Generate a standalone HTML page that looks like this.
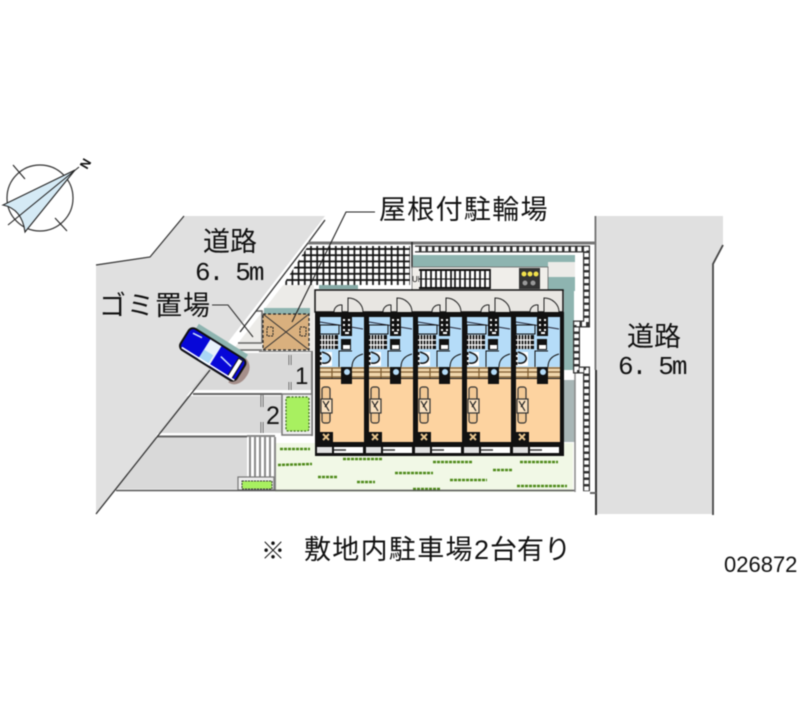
<!DOCTYPE html>
<html><head><meta charset="utf-8"><style>
html,body{margin:0;padding:0;background:#fff}
svg{display:block;filter:blur(.4px)}
.t{font-family:"Liberation Sans","Noto Sans CJK JP",sans-serif;fill:#111}
.m{font-family:"Liberation Mono",monospace;fill:#111;font-size:26px;letter-spacing:-2px}
</style></head><body>
<svg width="800" height="727" viewBox="0 0 800 727" xmlns="http://www.w3.org/2000/svg">
<defs>
<pattern id="gr" width="6.2" height="6.2" patternUnits="userSpaceOnUse"><rect width="6.2" height="6.2" fill="#fff"/><path d="M0 1H6.2M1 0V6.2" stroke="#111" stroke-width="1.7"/></pattern>
<g id="u">
<rect x="320" y="317" width="44" height="50" fill="#b5dcf8"/>
<path d="M320 322L363 329" stroke="#223" stroke-width="1" fill="none"/>
<rect x="320" y="325" width="19" height="9" fill="#b5dcf8" stroke="#111"/>
<rect x="320" y="335" width="18" height="14" fill="#111"/>
<path d="M322 335V349M325 335V349M328 335V349M331 335V349M334 335V349M320 340H338M320 345H338" stroke="#fff" stroke-width="1.2"/>
<rect x="341" y="316" width="11" height="20" fill="#111"/>
<path d="M343 320h2M348 320h2M343 325h2M348 325h2M343 330h2M348 330h2M345 333h4" stroke="#fff" stroke-width="2"/>
<rect x="341" y="339" width="10" height="11" fill="#111"/>
<rect x="343" y="345" width="7" height="4" fill="#fff"/>
<rect x="320" y="352" width="12" height="14" fill="#fff"/>
<path d="M322 352q10 3 8 8q-2 4-8 3" fill="#b5dcf8" stroke="#111" stroke-width="1.5"/>
<path d="M320 352v14" stroke="#111" stroke-width="3" stroke-dasharray="3 2"/>
<path d="M342 351H339V368M342 351H352" stroke="#111" stroke-width="1" fill="none"/>
<path d="M352 367q0-10 11-13" stroke="#111" stroke-width="1" fill="none"/>
<rect x="320" y="367" width="44" height="11" fill="#f1d7ac"/>
<path d="M320 368H364M320 372H364M320 377H364M332 368V378" stroke="#7c5a2e" stroke-width="1.2"/>
<rect x="320" y="379" width="44" height="63" fill="#fdd3a0"/>
<rect x="341" y="367" width="11" height="17" fill="#111"/>
<circle cx="347" cy="372" r="3" fill="#b5dcf8"/>
<rect x="322" y="387" width="8" height="36" rx="2.5" fill="#f3c995" stroke="#333" stroke-width="1.2"/>
<rect x="321" y="399" width="11" height="14" fill="#fbe2c0" stroke="#333" stroke-width="1.2"/>
<path d="M323 401l6 10M329 401l-4 6" stroke="#222" stroke-width="1.2" fill="none"/>
<rect x="320" y="432" width="13" height="10" fill="#111"/>
<path d="M323 434l3 3 3-3M323 440l3-3 3 3" stroke="#e8c58e" stroke-width="2" fill="none"/>
<rect x="317" y="447" width="15" height="6" fill="#e2e2e2"/>
<rect x="334" y="447" width="12" height="6" fill="#fff"/>
<path d="M334 450H346" stroke="#333" stroke-width="1.5"/>
<rect x="346" y="447" width="17" height="6" fill="#fff"/>
<path d="M342 312v-7a7 7 0 0 0-8 7" fill="#e8e6e2" stroke="#222" stroke-width="1"/>
<path d="M348 312V298a15 14 0 0 1 15 14" fill="#e8e6e2" stroke="#222" stroke-width="1"/>
</g>
</defs>

<!-- compass -->
<circle cx="40" cy="198" r="33" fill="#fff" stroke="#333" stroke-width="1.2"/>
<path d="M75 170L3 205Q22 209 25 232Z" fill="#d5eaf5" stroke="#222" stroke-width="1.1"/>
<path d="M79 167L8 225M13 165L25 179M55 218L67 231" stroke="#222" stroke-width="1.1" fill="none"/>
<text x="0" y="0" font-size="13" font-weight="700" fill="#111" transform="translate(87,170) rotate(-60)" style="font-family:'Liberation Sans',sans-serif">N</text>

<!-- left road -->
<path d="M96 265L150 257L184 216L325 216L96 514Z" fill="#e0e0e0"/>
<path d="M96 265L150 257L184 216" fill="none" stroke="#333" stroke-width="1.2"/>

<!-- parking -->
<path d="M220 353H311V390H191Z" fill="#d9d9d9"/>
<path d="M187 396H282V433H158Z" fill="#d9d9d9"/>
<path d="M155 437H247V489H115Z" fill="#d9d9d9"/>
<path d="M259 351H312V436" fill="none" stroke="#777" stroke-width="2"/>
<path d="M193 392H311M157 435H282" stroke="#fff" stroke-width="3"/>
<path d="M193 394H282M157 436.500H247" stroke="#666" stroke-width="2"/>
<path d="M290 355v10M290 382v8M262 395v12M262 422v11" stroke="#666" stroke-width="3"/>
<path d="M290 355v10M290 382v8M262 395v12M262 422v11" stroke="#fff" stroke-width="1"/>
<text x="295" y="384" class="t" font-size="24">1</text>
<text x="266" y="424" class="t" font-size="25">2</text>

<!-- planter -->
<rect x="282" y="394" width="30" height="41" fill="#eee" stroke="#777" stroke-width="1.5"/>
<rect x="286" y="397" width="23" height="34" rx="2" fill="#a8f060" stroke="#3b6a1a" stroke-width="1.2" stroke-dasharray="2 1.500"/>

<!-- beige + shelter -->
<path d="M283 285H314V351H232Z" fill="#ecebe8"/>
<path d="M256 311H262V343M262 343H238M262 350H232" stroke="#666" stroke-width="1.4" fill="none"/>
<path d="M96 514L210 370M240 332L308 243L325 220" fill="none" stroke="#333" stroke-width="1.3"/>
<path d="M308 243H595" stroke="#777" stroke-width="3"/>
<path d="M308 246H410V285H283Z" fill="url(#gr)"/>
<path d="M412 242V268" stroke="#222" stroke-width="1.5"/>
<path d="M319 285H358V289H319Z" fill="#86aaa6"/>
<rect x="264" y="308" width="46" height="6" fill="#8eb4b0"/>
<rect x="263" y="314" width="46" height="36" fill="#d9b07e" stroke="#222" stroke-width="1.2" stroke-dasharray="3 2"/>
<path d="M263 314L309 350M309 314L263 350" stroke="#333" stroke-width="1"/>
<rect x="267" y="327" width="6" height="9" fill="none" stroke="#222" stroke-dasharray="2 1"/>
<rect x="300" y="327" width="6" height="9" fill="none" stroke="#222" stroke-dasharray="2 1"/>

<!-- grass -->
<rect x="275" y="443" width="298" height="49" fill="#f1f8e6"/>
<g stroke="#4f8a1a" stroke-width="2.500" stroke-dasharray="3 1" fill="none">
<path d="M280 449H310M278 465L312 464M318 477H337M343 459H382M357 482H375M395 473H433M413 489H440M433 462H473M450 480H487M493 470H513M520 462H558M517 486H567"/>
</g>

<!-- stairs and small planter -->
<rect x="247" y="436" width="28" height="42" fill="#fff"/>
<path d="M247 436H275M250 437V477M255 437V477M260 437V477M265 437V477M270 437V477M275 437V491" stroke="#888" stroke-width="2"/>
<rect x="238" y="477" width="36" height="13" fill="#eee" stroke="#777" stroke-width="1.2"/>
<rect x="242" y="481" width="30" height="8" fill="#a8f060" stroke="#333" stroke-dasharray="2 1"/>
<path d="M116 490.500H590" stroke="#555" stroke-width="1.6"/>

<!-- upper site -->
<rect x="413" y="255" width="134" height="13" fill="#8eb4b0"/>
<rect x="547" y="255" width="28" height="36" fill="#8eb4b0"/>
<rect x="548" y="262" width="27" height="15" fill="#ecebe8"/>
<rect x="564" y="290" width="10" height="80" fill="#8eb4b0"/>
<rect x="564" y="380" width="11" height="62" fill="#a8b6b6"/>
<rect x="412" y="267" width="136" height="23" fill="#f0eeea" stroke="#666" stroke-width="0.8"/>
<text x="412" y="282" class="t" font-size="8">UP</text>
<rect x="419" y="269" width="71" height="20" fill="#fff"/>
<path d="M419 270H490M419 288H490" stroke="#111" stroke-width="2"/>
<path d="M421 269V289M426 269V289M431 269V289M436 269V289M441 269V289M446 269V289M451 269V289M455 269V289M460 269V289M465 269V289M470 269V289M475 269V289M480 269V289M485 269V289M490 269V289" stroke="#111" stroke-width="1.7"/>
<path d="M419 279H490" stroke="#111" stroke-width="1"/>
<rect x="519" y="268" width="21" height="21" fill="#333"/>
<circle cx="524" cy="274" r="2.500" fill="#f2e14c"/><circle cx="530" cy="274" r="2.500" fill="#f2e14c"/><circle cx="536" cy="274" r="2.500" fill="#f2e14c"/>
<circle cx="525" cy="283" r="2.500" fill="#999"/><circle cx="533" cy="283" r="2.500" fill="#999"/>

<!-- perimeter wall -->
<rect x="575" y="254" width="8" height="70" fill="#fff"/>
<rect x="575" y="370" width="8" height="122" fill="#fff"/>
<path d="M575 370V492" stroke="#888" stroke-width="1.5"/>
<path d="M415 249H586.500V324H576.500V370H586.500V491" fill="none" stroke="#333" stroke-width="7"/>
<path d="M415 249H586.500V324H576.500V370H586.500V491" fill="none" stroke="#fff" stroke-width="4.500" stroke-dasharray="4 2.500"/>

<!-- building -->
<rect x="315" y="290" width="248" height="22" fill="#e8e6e2" stroke="#111" stroke-width="1.5"/>
<rect x="315" y="312" width="249" height="135" fill="#111"/>
<rect x="315" y="446" width="249" height="10" fill="#111"/>
<use href="#u"/>
<use href="#u" x="49"/>
<use href="#u" x="98"/>
<use href="#u" x="147"/>
<use href="#u" x="196"/>

<!-- car -->
<g transform="translate(213,354) rotate(32)">
<rect x="-28" y="-18" width="58" height="8" fill="#8eb4b0"/>
<path d="M30 -14Q42 -10 40 4Q38 16 28 16Z" fill="#a58f8a"/>
<rect x="-33" y="-12" width="66" height="25" rx="5" fill="#0707d8" stroke="#111" stroke-width="2"/>
<rect x="-10" y="-11" width="13" height="23" fill="#e8f2fa"/>
<rect x="-10" y="1" width="11" height="11" fill="#a9d6f5"/>
<rect x="24" y="-10" width="5" height="21" fill="#fff" stroke="#111"/>
<path d="M8 -2L22 1M-28 -7L-18 -8" stroke="#cfe4ff" stroke-width="1.500"/>
<path d="M-30 11H32" stroke="#fff" stroke-width="1.500"/>
</g>

<!-- right road -->
<path d="M597 216H723V245L712 264V514H597Z" fill="#e0e0e0"/>
<path d="M595.500 216V370" stroke="#777" stroke-width="2"/>
<path d="M596 370V515" stroke="#333" stroke-width="2"/>
<path d="M723 245L713 264V515" fill="none" stroke="#444" stroke-width="1.800"/>
<path d="M590 493H596" stroke="#666" stroke-width="2"/>

<!-- leaders -->
<path d="M212 305H228L253 337" fill="none" stroke="#333" stroke-width="1.100"/>
<path d="M375 212H346L292 322" fill="none" stroke="#222" stroke-width="1.100"/>

<!-- labels -->
<text x="379" y="219" class="t" font-size="27" letter-spacing="1.300">屋根付駐輪場</text>
<text x="203" y="251" class="t" font-size="27">道路</text>
<text x="195" y="280" class="m">6.<tspan dx="13">5m</tspan></text>
<text x="99" y="315" class="t" font-size="27" letter-spacing="1">ゴミ置場</text>
<text x="627" y="346" class="t" font-size="27">道路</text>
<text x="618" y="374" class="m">6.<tspan dx="13">5m</tspan></text>
<text x="261" y="559" class="t" font-size="24">※</text>
<text x="304" y="559" class="t" font-size="27" letter-spacing="1.300">敷地内駐車場</text>
<text x="474" y="559" class="t" font-size="27">2</text>
<text x="490" y="559" class="t" font-size="27">台有り</text>
<text x="724" y="572" class="t" font-size="22">026872</text>
</svg>
</body></html>
